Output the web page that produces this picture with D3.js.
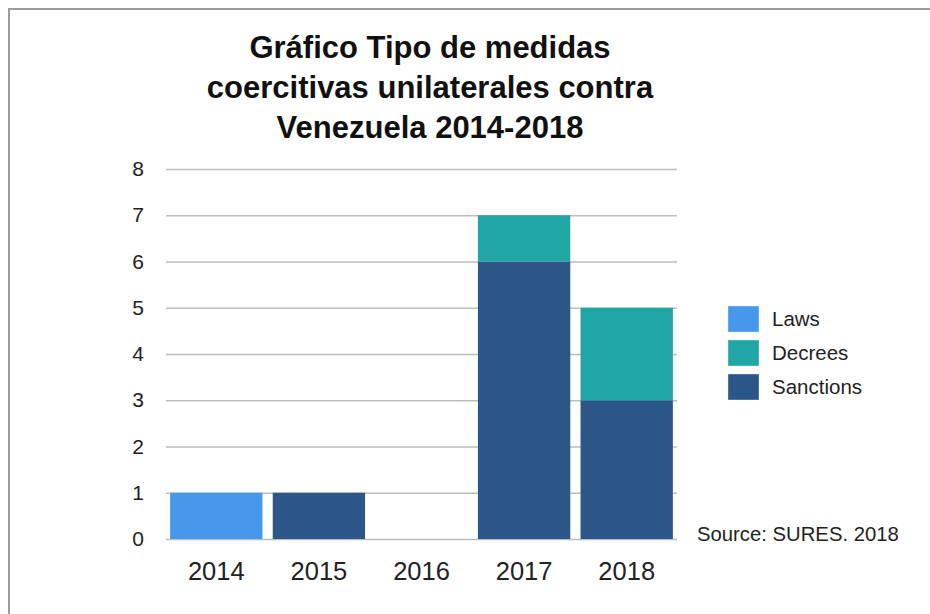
<!DOCTYPE html>
<html>
<head>
<meta charset="utf-8">
<script src="https://cdn.jsdelivr.net/npm/d3@7"></script>
<style>
  body { margin: 0; background: #fff; }
  svg { display: block; font-family: "Liberation Sans", Arial, sans-serif; }
</style>
</head>
<body>
<svg id="chart"></svg>
<script>
// chart data
const years = ["2014", "2015", "2016", "2017", "2018"];
const laws = [1, 0, 0, 0, 0];
const decrees = [0, 0, 0, 1, 2];
const sanctions = [0, 1, 0, 6, 3];
const yTicks = [0, 1, 2, 3, 4, 5, 6, 7, 8];
const seriesNames = ["Laws", "Decrees", "Sanctions"];
const titleLines = ["Gráfico Tipo de medidas", "coercitivas unilaterales contra", "Venezuela 2014-2018"];
const sourceText = "Source: SURES. 2018";

const w = 930;
const h = 614;
const colors = { Laws: "#4598ea", Decrees: "#20a6a4", Sanctions: "#2c5687" };
const textColor = "#222";

// rows for the stack
const rows = years.map((y, i) => ({ year: y, Laws: laws[i], Decrees: decrees[i], Sanctions: sanctions[i] }));
const stacked = d3.stack().keys(["Sanctions", "Decrees", "Laws"])(rows);

const svg = d3.select("#chart").attr("width", w).attr("height", h);

// frame
svg.append("rect")
   .attr("x", 9).attr("y", 9)
   .attr("width", w).attr("height", h)
   .attr("fill", "none")
   .attr("stroke", "#9c9c9c")
   .attr("stroke-width", 2);

// scales
const xScale = d3.scaleBand().domain(years).range([165, 678]).paddingInner(0.1).paddingOuter(0.05);
const yScale = d3.scaleLinear().domain([0, 8]).range([539, 169]);

// y axis with gridlines
const yAxis = d3.axisLeft(yScale).tickValues(yTicks).tickSize(-511).tickPadding(22).tickFormat(d3.format("d"));
const gy = svg.append("g")
   .attr("transform", "translate(166,0)")
   .call(yAxis);
gy.select(".domain").remove();
gy.selectAll(".tick line").attr("stroke", "#bdbdbd").attr("stroke-width", 1.5);
gy.selectAll(".tick text")
  .attr("fill", textColor)
  .style("font-size", "21px")
  .style("font-family", "Liberation Sans, Arial, sans-serif");

// bars
svg.append("g")
   .selectAll("g")
   .data(stacked)
   .join("g")
   .attr("fill", d => colors[d.key])
   .selectAll("rect")
   .data(d => d.filter(p => p[1] > p[0]))
   .join("rect")
   .attr("x", d => xScale(d.data.year))
   .attr("y", d => yScale(d[1]))
   .attr("width", xScale.bandwidth())
   .attr("height", d => yScale(d[0]) - yScale(d[1]));

// x axis labels
const xAxis = d3.axisBottom(xScale).tickSize(0).tickPadding(23);
const gx = svg.append("g")
   .attr("transform", "translate(0,539)")
   .call(xAxis);
gx.select(".domain").remove();
gx.selectAll(".tick text")
  .attr("fill", textColor)
  .style("font-size", "25.5px")
  .style("font-family", "Liberation Sans, Arial, sans-serif");

// title
svg.append("g")
   .selectAll("text")
   .data(titleLines)
   .join("text")
   .attr("x", 430)
   .attr("y", (d, i) => 58 + i * 40)
   .attr("text-anchor", "middle")
   .attr("fill", "#111")
   .style("font-size", "31px")
   .style("font-weight", "bold")
   .text(d => d);

// legend
const legend = svg.append("g")
   .selectAll("g")
   .data(seriesNames)
   .join("g")
   .attr("transform", (d, i) => `translate(728,${306 + i * 34})`);
legend.append("rect")
   .attr("width", 31).attr("height", 26)
   .attr("fill", d => colors[d])
   .attr("stroke", "#fff").attr("stroke-opacity", 0.35);
legend.append("text")
   .attr("x", 44).attr("y", 20)
   .attr("fill", textColor)
   .style("font-size", "20.5px")
   .text(d => d);

// source note
svg.append("text")
   .attr("x", 697).attr("y", 541)
   .attr("fill", textColor)
   .style("font-size", "20.3px")
   .text(sourceText);
</script>
</body>
</html>
